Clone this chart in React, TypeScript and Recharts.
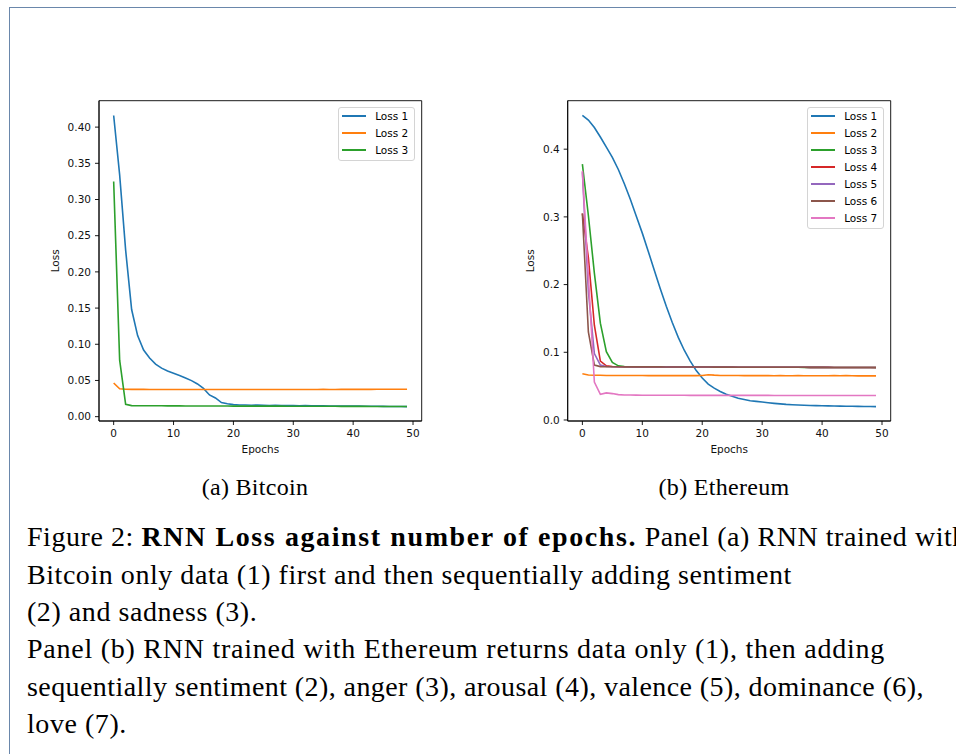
import React from 'react';
import { LineChart, Line, XAxis, YAxis, Legend, ReferenceArea } from 'recharts';

// ---------- data ----------
const epochs = [0, 1, 2, 3, 4, 5, 6, 7, 8, 9, 10, 11, 12, 13, 14, 15, 16, 17, 18, 19, 20, 21, 22, 23, 24, 25, 26, 27, 28, 29, 30, 31, 32, 33, 34, 35, 36, 37, 38, 39, 40, 41, 42, 43, 44, 45, 46, 47, 48, 49];

const btcLoss1 = [0.416, 0.334, 0.23, 0.148, 0.112, 0.092, 0.081, 0.0725, 0.067, 0.063, 0.06, 0.0568, 0.0535, 0.0498, 0.0452, 0.039, 0.03, 0.0258, 0.0195, 0.0178, 0.0166, 0.0162, 0.016, 0.0158, 0.016, 0.0157, 0.0155, 0.0158, 0.0154, 0.0152, 0.0155, 0.0151, 0.0153, 0.015, 0.0149, 0.0151, 0.0148, 0.0147, 0.0148, 0.0146, 0.0145, 0.0146, 0.0144, 0.0143, 0.0143, 0.0142, 0.0141, 0.0141, 0.014, 0.0139];
const btcLoss2 = [0.0465, 0.0385, 0.0378, 0.0377, 0.0377, 0.0377, 0.0376, 0.0376, 0.0376, 0.0376, 0.0376, 0.0376, 0.0376, 0.0375, 0.0376, 0.0376, 0.0375, 0.0376, 0.0376, 0.0375, 0.0376, 0.0376, 0.0375, 0.0376, 0.0376, 0.0375, 0.0376, 0.0376, 0.0376, 0.0375, 0.0376, 0.0376, 0.0376, 0.0376, 0.0376, 0.0377, 0.0376, 0.0376, 0.0377, 0.0377, 0.0377, 0.0377, 0.0377, 0.0377, 0.0378, 0.0378, 0.0378, 0.0378, 0.0379, 0.0379];
const btcLoss3 = [0.325, 0.078, 0.017, 0.0153, 0.0151, 0.0151, 0.015, 0.015, 0.015, 0.0149, 0.0149, 0.0149, 0.0148, 0.0148, 0.0148, 0.0148, 0.0147, 0.0147, 0.0147, 0.0147, 0.0146, 0.0146, 0.0146, 0.0146, 0.0145, 0.0145, 0.0145, 0.0145, 0.0145, 0.0144, 0.0144, 0.0144, 0.0144, 0.0144, 0.0143, 0.0143, 0.0143, 0.0143, 0.0142, 0.0142, 0.0142, 0.0142, 0.0142, 0.0141, 0.0141, 0.0141, 0.0141, 0.0141, 0.014, 0.014];

const ethLoss1 = [0.45, 0.443, 0.432, 0.418, 0.403, 0.388, 0.37, 0.349, 0.326, 0.301, 0.276, 0.249, 0.221, 0.194, 0.168, 0.144, 0.122, 0.103, 0.087, 0.073, 0.062, 0.053, 0.047, 0.042, 0.038, 0.035, 0.032, 0.0302, 0.0285, 0.0275, 0.0265, 0.0255, 0.0246, 0.0238, 0.0231, 0.0226, 0.0222, 0.0218, 0.0215, 0.0212, 0.021, 0.0208, 0.0206, 0.0204, 0.0203, 0.0202, 0.0201, 0.02, 0.0199, 0.0198];
const ethLoss2 = [0.0683, 0.0665, 0.066, 0.066, 0.0658, 0.0658, 0.0657, 0.0657, 0.0656, 0.0656, 0.0656, 0.0655, 0.0655, 0.0656, 0.0655, 0.0655, 0.0655, 0.0656, 0.0655, 0.0655, 0.0656, 0.0668, 0.0662, 0.0658, 0.0657, 0.0656, 0.0656, 0.0655, 0.0655, 0.0656, 0.0655, 0.0655, 0.0654, 0.0655, 0.0654, 0.0654, 0.0655, 0.0654, 0.0654, 0.0653, 0.0654, 0.0653, 0.0655, 0.0653, 0.0656, 0.0653, 0.0652, 0.0653, 0.0652, 0.0652];
const ethLoss3 = [0.378, 0.302, 0.217, 0.143, 0.101, 0.085, 0.08, 0.079, 0.0787, 0.0786, 0.0785, 0.0785, 0.0785, 0.0784, 0.0784, 0.0784, 0.0783, 0.0783, 0.0783, 0.0782, 0.0782, 0.0782, 0.0781, 0.0781, 0.0781, 0.078, 0.078, 0.078, 0.078, 0.0779, 0.0779, 0.0779, 0.0779, 0.0778, 0.0778, 0.0778, 0.0778, 0.0777, 0.0777, 0.0777, 0.0777, 0.0776, 0.0776, 0.0776, 0.0776, 0.0776, 0.0775, 0.0775, 0.0775, 0.0775];
const ethLoss4 = [0.305, 0.24, 0.14, 0.087, 0.08, 0.0789, 0.0787, 0.0786, 0.0786, 0.0785, 0.0785, 0.0785, 0.0784, 0.0784, 0.0784, 0.0784, 0.0783, 0.0783, 0.0783, 0.0782, 0.0782, 0.0782, 0.0782, 0.0781, 0.0781, 0.0781, 0.078, 0.078, 0.078, 0.078, 0.0779, 0.0779, 0.0779, 0.0779, 0.0778, 0.0778, 0.0778, 0.0778, 0.0777, 0.0777, 0.0777, 0.0777, 0.0776, 0.0776, 0.0776, 0.0776, 0.0775, 0.0775, 0.0775, 0.0775];
const ethLoss5 = [0.366, 0.19, 0.098, 0.081, 0.079, 0.0787, 0.0786, 0.0786, 0.0785, 0.0785, 0.0785, 0.0784, 0.0784, 0.0784, 0.0784, 0.0783, 0.0783, 0.0783, 0.0783, 0.0782, 0.0782, 0.0782, 0.0781, 0.0781, 0.0781, 0.0781, 0.078, 0.078, 0.078, 0.078, 0.0779, 0.0779, 0.0779, 0.0779, 0.0778, 0.0778, 0.0778, 0.0778, 0.0777, 0.0777, 0.0777, 0.0777, 0.0776, 0.0776, 0.0776, 0.0776, 0.0775, 0.0775, 0.0775, 0.0775];
const ethLoss6 = [0.305, 0.13, 0.081, 0.0788, 0.0787, 0.0786, 0.0786, 0.0785, 0.0785, 0.0785, 0.0784, 0.0784, 0.0784, 0.0784, 0.0783, 0.0783, 0.0783, 0.0783, 0.0782, 0.0782, 0.0782, 0.0782, 0.0781, 0.0781, 0.0781, 0.0781, 0.078, 0.078, 0.078, 0.078, 0.0779, 0.0779, 0.0779, 0.0779, 0.0778, 0.0778, 0.0778, 0.0778, 0.0777, 0.0777, 0.0777, 0.0777, 0.0776, 0.0776, 0.0776, 0.0776, 0.0775, 0.0775, 0.0775, 0.0774];
const ethLoss7 = [0.368, 0.212, 0.056, 0.038, 0.04, 0.039, 0.0375, 0.037, 0.0368, 0.0367, 0.0366, 0.0366, 0.0366, 0.0365, 0.0365, 0.0365, 0.0365, 0.0365, 0.0364, 0.0364, 0.0364, 0.0364, 0.0364, 0.0364, 0.0363, 0.0363, 0.0363, 0.0363, 0.0363, 0.0363, 0.0363, 0.0363, 0.0362, 0.0362, 0.0362, 0.0362, 0.0362, 0.0362, 0.0362, 0.0362, 0.0362, 0.0362, 0.0362, 0.0362, 0.0362, 0.0362, 0.0362, 0.0362, 0.0362, 0.0362];

const xTicks = [0, 10, 20, 30, 40, 50];
const btcYTicks = [0, 0.05, 0.1, 0.15, 0.2, 0.25, 0.3, 0.35, 0.4];
const ethYTicks = [0, 0.1, 0.2, 0.3, 0.4];

const btcSeries = [btcLoss1, btcLoss2, btcLoss3];
const ethSeries = [ethLoss1, ethLoss2, ethLoss3, ethLoss4, ethLoss5, ethLoss6, ethLoss7];
const seriesNames = ['Loss 1', 'Loss 2', 'Loss 3', 'Loss 4', 'Loss 5', 'Loss 6', 'Loss 7'];
const COLORS = ['#1f77b4', '#ff7f0e', '#2ca02c', '#d62728', '#9467bd', '#8c564b', '#e377c2'];

const subCaptions = ['(a) Bitcoin', '(b) Ethereum'];

function buildRows(series: number[][]) {
  return epochs.map((e, i) => {
    const row: Record<string, number> = { epoch: e };
    series.forEach((s, k) => {
      row['l' + (k + 1)] = s[i];
    });
    return row;
  });
}

const FONT = '"DejaVu Sans", sans-serif';
const FS = 10.5;

function LegendBox({ payload }: any) {
  const items = payload || [];
  return (
    <div
      style={{
        position: 'relative',
        width: '100%',
        height: '100%',
        boxSizing: 'border-box',
        border: '1px solid #d4d4d4',
        borderRadius: 3,
        background: 'rgba(255,255,255,0.8)',
        fontFamily: FONT,
        fontSize: FS,
        color: '#000',
      }}
    >
      {items.map((it: any, i: number) => (
        <div key={i} style={{ position: 'absolute', left: 0, top: 9.6 + 17 * i - 8, height: 14, width: '100%' }}>
          <div style={{ position: 'absolute', left: 3.5, top: 6.1, width: 24.3, height: 1.8, background: COLORS[i] }} />
          <div style={{ position: 'absolute', left: 36.5, top: 0, lineHeight: '14px', whiteSpace: 'nowrap' }}>{it.value}</div>
        </div>
      ))}
    </div>
  );
}

type PanelProps = {
  series: number[][];
  yDomain: [number, number];
  yTicks: number[];
  yDigits: number;
  left: number;
  top: number;
  marginLeft: number;
  marginRight: number;
  lossX: number;
  legendLeft: number;
};

const CH_W = 410;
const CH_H = 380;
const X_DOMAIN: [number, number] = [-2.45, 51.45];

function Panel(p: PanelProps) {
  const rows = buildRows(p.series);
  const n = p.series.length;
  const plotLeft = p.marginLeft + 40;
  const plotW = CH_W - plotLeft - p.marginRight;
  const plotTop = 10.7;
  const plotH = 320.3;
  return (
    <div style={{ position: 'absolute', left: p.left, top: p.top, width: CH_W, height: CH_H }}>
      <LineChart
        width={CH_W}
        height={CH_H}
        data={rows}
        margin={{ top: plotTop, right: p.marginRight, bottom: CH_H - plotTop - plotH - 30, left: p.marginLeft }}
        style={{ fontFamily: FONT }}
      >
        <XAxis
          dataKey="epoch"
          type="number"
          domain={X_DOMAIN}
          ticks={xTicks}
          allowDataOverflow
          height={30}
          tickSize={4}
          tickMargin={5}
          interval={0}
          axisLine={{ stroke: '#000', strokeWidth: 0.9 }}
          tickLine={{ stroke: '#000', strokeWidth: 0.9 }}
          tick={{ fontSize: FS, fill: '#111', fontFamily: FONT }}
          label={{
            content: () => (
              <text x={plotLeft + plotW / 2} y={362.5} textAnchor="middle" fontSize={FS} fill="#111" fontFamily={FONT}>
                Epochs
              </text>
            ),
          }}
        />
        <YAxis
          type="number"
          domain={p.yDomain}
          ticks={p.yTicks}
          allowDataOverflow
          width={40}
          tickSize={4}
          tickMargin={4}
          interval={0}
          tickFormatter={(v: number) => v.toFixed(p.yDigits)}
          axisLine={{ stroke: '#000', strokeWidth: 0.9 }}
          tickLine={{ stroke: '#000', strokeWidth: 0.9 }}
          tick={{ fontSize: FS, fill: '#111', fontFamily: FONT }}
          label={{
            content: () => (
              <text
                transform={`translate(${p.lossX},${plotTop + plotH / 2}) rotate(-90)`}
                textAnchor="middle"
                fontSize={FS}
                fill="#111"
                fontFamily={FONT}
              >
                Loss
              </text>
            ),
          }}
        />
        {p.series.map((_, k) => (
          <Line
            key={k}
            type="linear"
            dataKey={'l' + (k + 1)}
            name={seriesNames[k]}
            stroke={COLORS[k]}
            strokeWidth={1.6}
            dot={false}
            activeDot={false}
            isAnimationActive={false}
          />
        ))}
        <ReferenceArea
          x1={X_DOMAIN[0]}
          x2={X_DOMAIN[1]}
          y1={p.yDomain[0]}
          y2={p.yDomain[1]}
          fill="none"
          fillOpacity={0}
          stroke="#000"
          strokeWidth={0.9}
          ifOverflow="visible"
        />
        <Legend
          layout="vertical"
          align="center"
          verticalAlign="middle"
          wrapperStyle={{ left: p.legendLeft, top: 16.7, width: 77.6, height: 20.3 + 17 * (n - 1), right: 'auto', bottom: 'auto', margin: 0 }}
          content={(props: any) => <LegendBox payload={props.payload} />}
        />
      </LineChart>
    </div>
  );
}

const SERIF = '"Liberation Serif", "Times New Roman", serif';
const CAP_FS = 28;
const CAP_LH = 37.4;

export default function App() {
  return (
    <div
      style={{
        position: 'absolute',
        left: 0,
        top: 0,
        width: 956,
        height: 754,
        overflow: 'hidden',
        background: '#fff',
      }}
    >
      <div
        style={{
          position: 'absolute',
          left: 9,
          top: 7,
          width: 1200,
          height: 1200,
          borderTop: '1.5px solid #6a87ab',
          borderLeft: '1.5px solid #6a87ab',
        }}
      />
      <Panel
        series={btcSeries}
        yDomain={[-0.006, 0.4365]}
        yTicks={btcYTicks}
        yDigits={2}
        left={30}
        top={90}
        marginLeft={29}
        marginRight={18.3}
        lossX={28.8}
        legendLeft={307.7}
      />
      <Panel
        series={ethSeries}
        yDomain={[-0.0015, 0.4716]}
        yTicks={ethYTicks}
        yDigits={1}
        left={500}
        top={90}
        marginLeft={27.7}
        marginRight={19.3}
        lossX={33.8}
        legendLeft={306.7}
      />
      {subCaptions.map((t, i) => (
        <div
          key={t}
          style={{
            position: 'absolute',
            left: i === 0 ? 255 - 150 : 724 - 150,
            width: 300,
            top: 494 - 20,
            textAlign: 'center',
            fontFamily: SERIF,
            fontSize: 24,
            letterSpacing: '0.3px',
            lineHeight: '27px',
            whiteSpace: 'nowrap',
            color: '#000',
          }}
        >
          {t}
        </div>
      ))}
      <div
        style={{
          position: 'absolute',
          left: 27,
          top: 546 - 27.8,
          fontFamily: SERIF,
          fontSize: CAP_FS,
          letterSpacing: '0.55px',
          lineHeight: CAP_LH + 'px',
          whiteSpace: 'nowrap',
          color: '#000',
        }}
      >
        <div>
          Figure 2: <b style={{ letterSpacing: '1.6px' }}>RNN Loss against number of epochs.</b> Panel (a) RNN trained with
        </div>
        <div>Bitcoin only data (1) first and then sequentially adding sentiment</div>
        <div>(2) and sadness (3).</div>
        <div style={{ letterSpacing: '0.75px' }}>Panel (b) RNN trained with Ethereum returns data only (1), then adding</div>
        <div style={{ letterSpacing: '0.42px' }}>sequentially sentiment (2), anger (3), arousal (4), valence (5), dominance (6),</div>
        <div>love (7).</div>
      </div>
    </div>
  );
}
